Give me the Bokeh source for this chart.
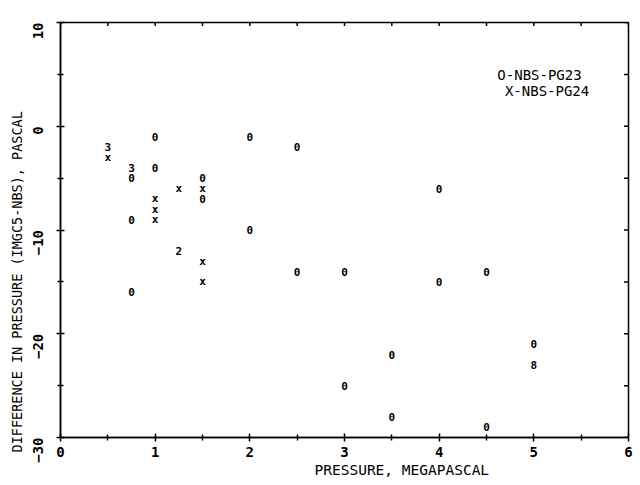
from bokeh.plotting import figure
from bokeh.models import FixedTicker, LinearAxis, Range1d, Label, ColumnDataSource, Title
from bokeh.core.properties import value
from bokeh.embed import file_html
from bokeh.resources import INLINE
import math

# --- data ---
pg23_pressure = [0.75, 0.75, 0.75, 1.0, 1.0, 1.5, 1.5, 2.0, 2.0, 2.5, 2.5, 3.0, 3.0, 3.5, 3.5, 4.0, 4.0, 4.5, 4.5, 5.0]
pg23_diff = [-5, -9, -16, -1, -4, -5, -7, -1, -10, -2, -14, -14, -25, -22, -28, -6, -15, -14, -29, -21]
pg24_pressure = [0.5, 1.0, 1.0, 1.0, 1.25, 1.5, 1.5, 1.5]
pg24_diff = [-3, -7, -8, -9, -6, -6, -13, -15]
multi_pressure = [0.5, 0.75, 1.25, 5.0]
multi_diff = [-2, -4, -12, -23]
multi_symbol = ["3", "3", "2", "8"]

x_major = [0, 1, 2, 3, 4, 5, 6]
x_minor = [0.5, 1.5, 2.5, 3.5, 4.5, 5.5]
y_major = [-30, -20, -10, 0, 10]
y_minor = [-25, -15, -5, 5]

FONT = "DejaVu Sans Mono"

p = figure(width=636, height=482, output_backend="svg", toolbar_location=None,
           x_range=Range1d(0, 6), y_range=Range1d(-30, 10),
           min_border_left=60, min_border_right=8, min_border_top=22, min_border_bottom=45,
           x_axis_location=None, y_axis_location=None)
p.grid.visible = False
p.outline_line_color = "black"
p.outline_line_width = 1.5
p.background_fill_color = "white"
p.border_fill_color = "white"

def style_axis(ax):
    ax.axis_line_color = "black"
    ax.axis_line_width = 1.5
    ax.major_tick_in = 4
    ax.major_tick_out = 4
    ax.minor_tick_in = 3
    ax.minor_tick_out = 3
    ax.major_tick_line_width = 1.5
    ax.minor_tick_line_width = 1.5
    ax.major_label_text_font = FONT
    ax.major_label_text_font_style = "bold"
    ax.major_label_text_color = "black"
    ax.major_label_text_font_size = "14px"

xb = LinearAxis(ticker=FixedTicker(ticks=x_major, minor_ticks=x_minor))
style_axis(xb)
xb.major_label_standoff = 5
p.add_layout(xb, "below")

yl = LinearAxis(ticker=FixedTicker(ticks=y_major, minor_ticks=y_minor))
style_axis(yl)
yl.major_label_orientation = math.pi / 2
yl.major_label_standoff = 19
p.add_layout(yl, "left")

# tick marks on the top and right borders (no labels)
top_ticks = x_major + x_minor
p.scatter(x=top_ticks, y=[10] * len(top_ticks), marker="dash", angle=math.pi / 2, size=7,
          line_color="black", line_width=1.5)
right_ticks = y_major + y_minor
p.scatter(x=[6] * len(right_ticks), y=right_ticks, marker="dash", size=9,
          line_color="black", line_width=1.5)

src23 = ColumnDataSource(dict(x=pg23_pressure, y=pg23_diff, t=["0"] * len(pg23_pressure)))
src24 = ColumnDataSource(dict(x=pg24_pressure, y=pg24_diff, t=["x"] * len(pg24_pressure)))
srcm = ColumnDataSource(dict(x=multi_pressure, y=multi_diff, t=multi_symbol))
for s in (src23, src24, srcm):
    p.text(x="x", y="y", text="t", source=s, text_align="center", text_baseline="middle",
           text_font=value(FONT), text_font_size="11px", text_font_style="bold", text_color="black")

p.add_layout(Label(x=5.06, y=4.9, text="O-NBS-PG23", text_font=FONT, text_font_size="14px",
                   text_align="center", text_baseline="middle", text_color="black"))
p.add_layout(Label(x=5.14, y=3.35, text="X-NBS-PG24", text_font=FONT, text_font_size="14px",
                   text_align="center", text_baseline="middle", text_color="black"))

xt = Title(text="PRESSURE, MEGAPASCAL", align="left", offset=254, text_font=FONT,
           text_font_size="14.5px", text_font_style="normal", text_color="black", standoff=0)
p.add_layout(xt, "below")
yt = Title(text="DIFFERENCE IN PRESSURE (IMGC5-NBS), PASCAL", align="left", offset=-15,
           text_font=FONT, text_font_size="13.5px", text_font_style="normal", text_color="black",
           standoff=0)
p.add_layout(yt, "left")

open("out.html", "w").write(file_html(p, INLINE))
